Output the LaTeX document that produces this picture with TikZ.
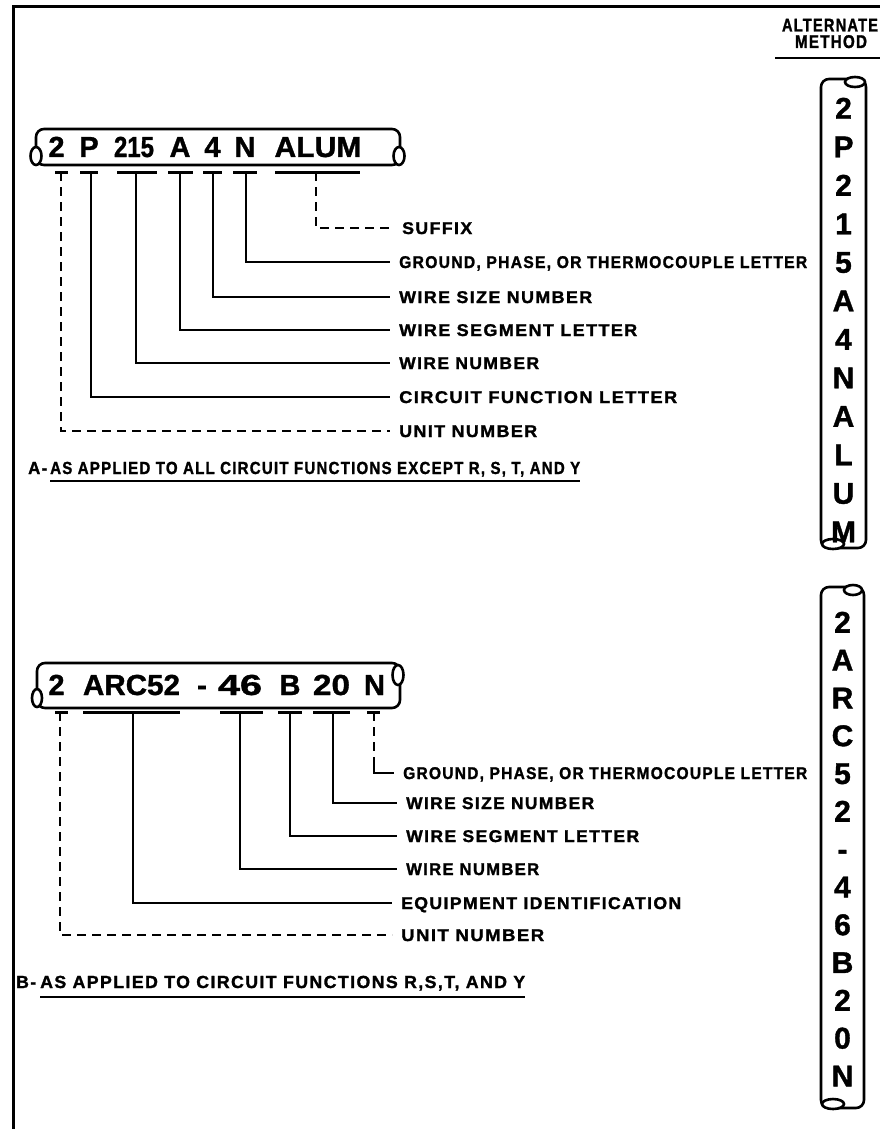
\documentclass[tikz,border=0pt]{standalone}
\usepackage{fontspec}
\usepackage{graphicx}
\setmainfont[BoldFeatures={FakeBold=1.2}]{Liberation Sans}
\newfontfamily\labfam[LetterSpace=8,BoldFeatures={FakeBold=1.5}]{Liberation Sans}
\newcommand{\fw}[2]{\resizebox{#1pt}{\height}{#2}}
\tikzset{
  frameline/.style={line width=3pt},
  conn/.style={line width=2.4pt},
  dconn/.style={line width=2.4pt, dash pattern=on 9pt off 6pt},
  tickmark/.style={line width=3pt},
  lab/.style={anchor=west, inner xsep=9pt, inner ysep=0pt, text height=12pt, text depth=0pt, font=\labfam\fontsize{17}{19}\selectfont\bfseries},
  captext/.style={anchor=west, inner sep=0pt, text height=12pt, text depth=0pt, font=\labfam\fontsize{17.5}{19}\selectfont\bfseries},
  smalltext/.style={inner sep=0pt, text height=13pt, text depth=0pt, font=\labfam\fontsize{18.5}{20}\selectfont\bfseries},
  tok/.style={inner sep=0pt, text height=20pt, text depth=0pt, font=\fontsize{29}{31}\selectfont\bfseries},
  vtok/.style={inner sep=0pt, text height=21.5pt, text depth=0pt, font=\fontsize{30}{32}\selectfont\bfseries},
  cable/.style={line width=2.6pt, rounded corners=8pt, fill=white},
  capend/.style={line width=2.6pt, fill=white},
  uline/.style={line width=2.4pt},
}
\begin{document}
\begin{tikzpicture}[x=1pt,y=-1pt]
\useasboundingbox (0,0) rectangle (880,1129);
% frame
\draw[frameline] (13,1129) -- (13,7) -- (880,7);

% alternate method heading
\node[smalltext] (alt) at (830,25) {\fw{96}{ALTERNATE}};
\node[smalltext] (meth) at (831,41.5) {\fw{72}{METHOD}};
\draw[uline] (775,58) -- (880,58);

% ---------------- A : horizontal cable ----------------
\draw[cable] (36,129) rectangle (400,165);
\draw[capend] (36,156) ellipse [x radius=5.5, y radius=9];
\draw[capend] (399,156) ellipse [x radius=5.5, y radius=9];
\node[tok] (a1) at (56.5,147) {2};
\node[tok] (a2) at (89,147) {P};
\node[tok] (a3) at (134,147) {\fw{40}{215}};
\node[tok] (a4) at (180,147) {A};
\node[tok] (a5) at (212.5,147) {4};
\node[tok] (a6) at (245,147) {N};
\node[tok] (a7) at (318,147) {\fw{87}{ALUM}};

% ticks A
\draw[tickmark] (55,172) -- (68,172);
\draw[tickmark] (80,172) -- (98,172);
\draw[tickmark] (117,172) -- (157,172);
\draw[tickmark] (168,172) -- (193,172);
\draw[tickmark] (203,172) -- (222,172);
\draw[tickmark] (233,172) -- (257,172);
\draw[tickmark] (275,172) -- (360,172);
\coordinate (tA1) at (61,172);
\coordinate (tA2) at (91,172);
\coordinate (tA3) at (136,172);
\coordinate (tA4) at (180,172);
\coordinate (tA5) at (213,172);
\coordinate (tA6) at (246,172);
\coordinate (tA7) at (316,172);

% labels A
\node[lab] (lA1) at (393,228) {\fw{70}{SUFFIX}};
\node[lab] (lA2) at (390,262) {\fw{408}{GROUND, PHASE, OR THERMOCOUPLE LETTER}};
\node[lab] (lA3) at (390,297) {\fw{193}{WIRE SIZE NUMBER}};
\node[lab] (lA4) at (390,330) {\fw{238}{WIRE SEGMENT LETTER}};
\node[lab] (lA5) at (390,363) {\fw{140}{WIRE NUMBER}};
\node[lab] (lA6) at (390,397) {\fw{278}{CIRCUIT FUNCTION LETTER}};
\node[lab] (lA7) at (390,431) {\fw{138}{UNIT NUMBER}};

\draw[dconn] (tA7) |- (lA1.west);
\draw[conn] (tA6) |- (lA2.west);
\draw[conn] (tA5) |- (lA3.west);
\draw[conn] (tA4) |- (lA4.west);
\draw[conn] (tA3) |- (lA5.west);
\draw[conn] (tA2) |- (lA6.west);
\draw[dconn] (tA1) |- (lA7.west);

% caption A
\node[captext] (capAl) at (28,468) {\fw{19}{A-}};
\node[captext] (capA) at (50,468) {\fw{530}{AS APPLIED TO ALL CIRCUIT FUNCTIONS EXCEPT R, S, T, AND Y}};
\draw[uline] ([yshift=-7pt]capA.south west) -- ([yshift=-7pt]capA.south east);

% ---------------- B : horizontal cable ----------------
\draw[cable] (37,663) rectangle (400,708);
\draw[capend] (37,698) ellipse [x radius=5, y radius=9];
\draw[capend] (398,675) ellipse [x radius=5.5, y radius=10];
\node[tok] (b1) at (56.5,685) {2};
\node[tok] (b2) at (131.5,685) {\fw{97}{ARC52}};
\node[tok] (b3) at (202,685) {\fw{10}{-}};
\node[tok] (b4) at (240,685) {\fw{44}{46}};
\node[tok] (b5) at (290,685) {B};
\node[tok] (b6) at (331.5,685) {\fw{37}{20}};
\node[tok] (b7) at (374.5,685) {N};

% ticks B
\draw[tickmark] (55,712) -- (68,712);
\draw[tickmark] (83,712) -- (180,712);
\draw[tickmark] (220,712) -- (263,712);
\draw[tickmark] (278,712) -- (302,712);
\draw[tickmark] (313,712) -- (350,712);
\draw[tickmark] (367,712) -- (380,712);
\coordinate (tB1) at (60,712);
\coordinate (tB2) at (133,712);
\coordinate (tB3) at (240,712);
\coordinate (tB4) at (290,712);
\coordinate (tB5) at (333,712);
\coordinate (tB6) at (374,712);
\coordinate (kB6) at (374,757);

% labels B
\node[lab] (lB1) at (394,773) {\fw{404}{GROUND, PHASE, OR THERMOCOUPLE LETTER}};
\node[lab] (lB2) at (397,803) {\fw{188}{WIRE SIZE NUMBER}};
\node[lab] (lB3) at (397,836) {\fw{233}{WIRE SEGMENT LETTER}};
\node[lab] (lB4) at (397,869) {\fw{133}{WIRE NUMBER}};
\node[lab] (lB5) at (392,903) {\fw{280}{EQUIPMENT IDENTIFICATION}};
\node[lab] (lB6) at (392,935) {\fw{143}{UNIT NUMBER}};

\draw[dconn] (tB6) -- (kB6);
\draw[conn] (kB6) |- (lB1.west);
\draw[conn] (tB5) |- (lB2.west);
\draw[conn] (tB4) |- (lB3.west);
\draw[conn] (tB3) |- (lB4.west);
\draw[conn] (tB2) |- (lB5.west);
\draw[dconn] (tB1) |- (lB6.west);

% caption B
\node[captext] (capBl) at (16,982) {\fw{20}{B-}};
\node[captext] (capB) at (40,982) {\fw{485}{AS APPLIED TO CIRCUIT FUNCTIONS R,S,T, AND Y}};
\draw[uline] ([yshift=-9pt]capB.south west) -- ([yshift=-9pt]capB.south east);

% ---------------- alternate method: vertical cables ----------------
\draw[cable] (821,79) rectangle (866,548);
\draw[capend] (855,82) ellipse [x radius=10, y radius=5];
\draw[capend] (833,544) ellipse [x radius=11, y radius=5];
\foreach \t [count=\i] in {2,P,2,1,5,A,4,N,A,L,U,M}
  \node[vtok] (vA\i) at (843.5,{108+(\i-1)*38.5}) {\t};

\draw[cable] (821,587) rectangle (864,1108);
\draw[capend] (853,590) ellipse [x radius=9, y radius=5];
\draw[capend] (833,1104) ellipse [x radius=11, y radius=5];
\foreach \t [count=\i] in {2,A,R,C,5,2,-,4,6,B,2,0,N}
  \node[vtok] (vB\i) at (842.5,{622+(\i-1)*37.8}) {\t};
\end{tikzpicture}
\end{document}
